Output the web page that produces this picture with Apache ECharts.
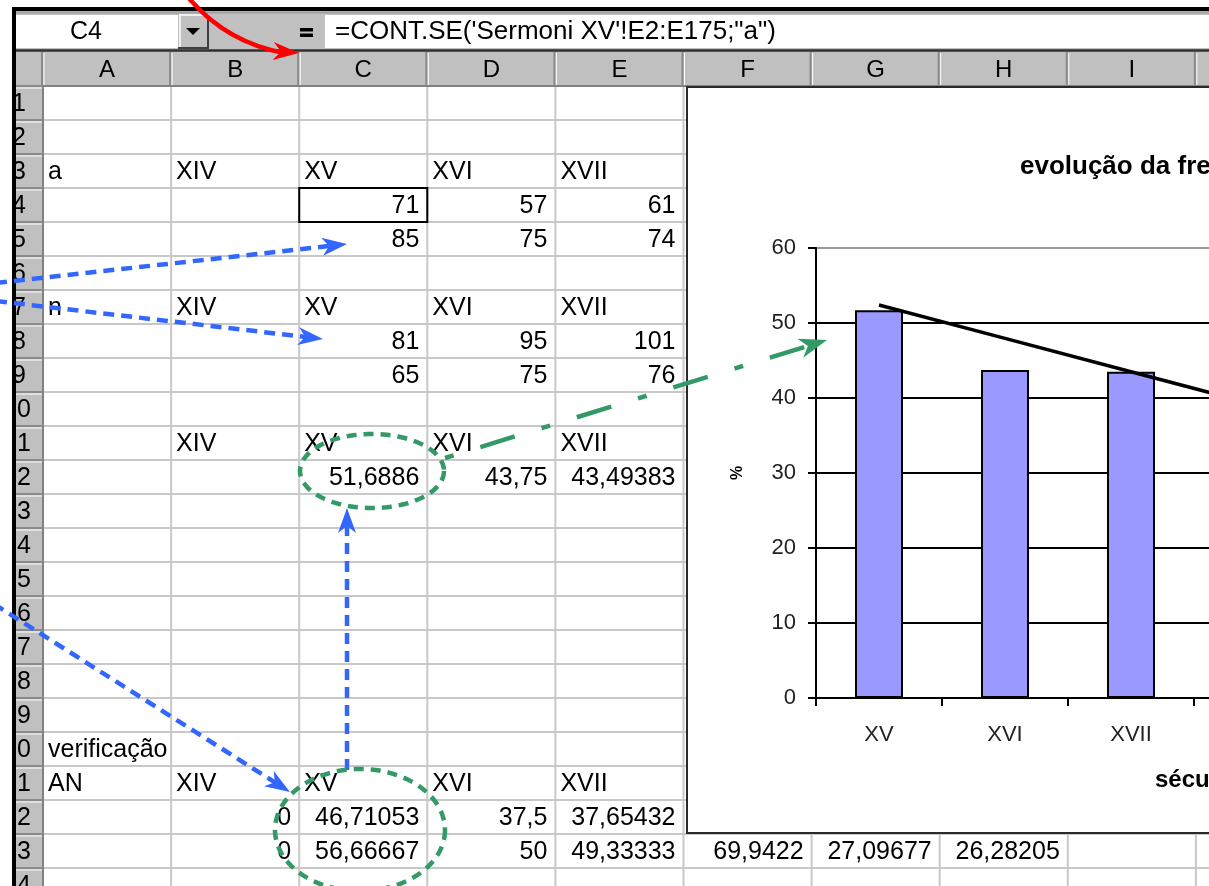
<!DOCTYPE html>
<html>
<head>
<meta charset="utf-8">
<script src="https://cdn.jsdelivr.net/npm/echarts@6/dist/echarts.min.js"></script>
<style>
  html, body { margin: 0; padding: 0; background: #fff; overflow: hidden; }
  #chart { width: 1209px; height: 886px; }
</style>
</head>
<body>
<div id="chart"></div>
<script>
// ---- chart data ----
const categories = ['XV', 'XVI', 'XVII', 'XVIII'];
const frequencia = [51.6886, 43.75, 43.49383];
const tendencia = [52.4, 47.95, 43.5, 39.05];
const chartTitle = 'evolução da frequência';
const xName = 'século';
const yName = '%';

// ---- sheet data ----
const colunas = ['A', 'B', 'C', 'D', 'E', 'F', 'G', 'H', 'I', 'J'];
const seculos = ['XIV', 'XV', 'XVI', 'XVII'];
const contagemA = [[71, 57, 61], [85, 75, 74]];
const contagemN = [[81, 95, 101], [65, 75, 76]];
const verificacao = [
  ['0', '46,71053', '37,5', '37,65432'],
  ['0', '56,66667', '50', '49,33333', '69,9422', '27,09677', '26,28205']
];
const celulaActiva = 'C4';
const formula = '=CONT.SE(\'Sermoni XV\'!E2:E175;"a")';

// ---- layout ----
const FONT = '"Liberation Sans", Arial, sans-serif';
const COL0 = 43, COLW = 128.1, ROW0 = 86, ROWH = 34;
const colX = c => COL0 + c * COLW;
const rowY = r => ROW0 + (r - 1) * ROWH;
const fmt = v => String(v).replace('.', ',');

const els = [];
const rect = (x, y, w, h, fill, z, extra) =>
  els.push(Object.assign({ type: 'rect', z: z, silent: true, shape: { x, y, width: w, height: h }, style: { fill: fill } }, extra || {}));
const line = (x1, y1, x2, y2, stroke, w, z) =>
  els.push({ type: 'line', z: z, silent: true, shape: { x1, y1, x2, y2 }, style: { stroke: stroke, lineWidth: w } });
const text = (t, x, y, align, size, z, weight, color) =>
  els.push({ type: 'text', z: z, silent: true, style: {
    text: t, x: x, y: y, font: (weight || 'normal') + ' ' + size + 'px ' + FONT,
    fill: color || '#000', textAlign: align, align: align, textVerticalAlign: 'middle', verticalAlign: 'middle'
  } });

// formula bar
rect(12, 7, 1197, 45, '#c0c0c0', -30);
rect(16, 15, 162, 33, '#ffffff', -29);
text(celulaActiva, 86, 32, 'center', 25, -28);
rect(179, 15, 30, 33, '#c0c0c0', -29);
line(179, 15, 209, 15, '#ffffff', 1.5, -28);
line(180, 15, 180, 48, '#ffffff', 1.5, -28);
line(178, 48, 209, 48, '#404040', 2, -28);
line(208, 15, 208, 48, '#404040', 2, -28);
els.push({ type: 'polygon', z: -27, silent: true, shape: { points: [[186, 28], [200, 28], [193, 35]] }, style: { fill: '#000' } });
rect(300, 28, 13, 3.5, '#000', -28);
rect(300, 33.5, 13, 3.5, '#000', -28);
rect(325, 15, 884, 33, '#ffffff', -29);
text(formula, 335, 32, 'left', 26, -28);
line(12, 12.5, 1209, 12.5, '#a0a0a0', 2, -28);
line(12, 50.5, 1209, 50.5, '#303030', 2.5, -28);

// column header row
rect(16, 52, 1193, 34, '#c0c0c0', -30);
line(16, 86, 1209, 86, '#808080', 2, -26);
for (let c = 0; c <= colunas.length; c++) {
  const x = colX(c);
  line(x - 1, 52, x - 1, 86, '#8a8a8a', 2, -26);
  line(x + 1, 53, x + 1, 85, '#ffffff', 1, -26);
}
colunas.forEach((l, c) => text(l, colX(c) + COLW / 2, 70, 'center', 24, -25));

// row header column
rect(16, 86, 27, 800, '#c0c0c0', -30);
line(43, 86, 43, 886, '#808080', 2, -26);
for (let r = 1; r <= 25; r++) {
  const y = rowY(r);
  line(16, y, 43, y, '#8a8a8a', 2, -26);
  line(16, y + 2, 42, y + 2, '#ffffff', 1, -26);
  if (r <= 24) {
    text(String(r % 10), r < 10 ? 26 : 31, y + ROWH / 2 + 1, 'right', 25, -25);
  }
}

// cell grid
for (let c = 1; c <= colunas.length; c++) line(colX(c), 86, colX(c), 886, '#c8c8c8', 2, -27);
for (let r = 2; r <= 25; r++) line(44, rowY(r), 1209, rowY(r), '#c8c8c8', 2, -27);

// cell contents
const cellText = (r, c, t) => text(t, colX(c) + 5, rowY(r) + ROWH / 2 + 1, 'left', 25, -20);
const cellNum = (r, c, t) => text(String(t), colX(c + 1) - 8, rowY(r) + ROWH / 2 + 1, 'right', 25, -20);
cellText(3, 0, 'a');
cellText(7, 0, 'n');
cellText(20, 0, 'verificação');
cellText(21, 0, 'AN');
[3, 7, 11, 21].forEach(r => seculos.forEach((s, i) => cellText(r, 1 + i, s)));
contagemA.forEach((row, k) => row.forEach((v, i) => cellNum(4 + k, 2 + i, v)));
contagemN.forEach((row, k) => row.forEach((v, i) => cellNum(8 + k, 2 + i, v)));
frequencia.forEach((v, i) => cellNum(12, 2 + i, fmt(v)));
verificacao.forEach((row, k) => row.forEach((v, i) => cellNum(22 + k, 1 + i, v)));
// active cell
els.push({ type: 'rect', z: -19, silent: true, shape: { x: colX(2), y: rowY(4), width: COLW, height: ROWH }, style: { fill: null, stroke: '#000', lineWidth: 2 } });

// chart object frame
els.push({ type: 'rect', z: -5, silent: true, shape: { x: 687, y: 87, width: 540, height: 746 }, style: { fill: '#fff', stroke: '#2a2a2a', lineWidth: 2 } });
text(xName, 1155, 780, 'left', 24, 5, 'bold');

// window border
rect(12, 7, 1197, 4, '#000', 50);
rect(12, 7, 4, 879, '#000', 50);

// ---- annotation arrows ----
function headPts(tip, from, len, half, notch) {
  const dx = tip[0] - from[0], dy = tip[1] - from[1];
  const L = Math.hypot(dx, dy), ux = dx / L, uy = dy / L, nx = -uy, ny = ux;
  const bx = tip[0] - ux * len, by = tip[1] - uy * len;
  return {
    pts: [tip, [bx + nx * half, by + ny * half], [tip[0] - ux * (len - notch), tip[1] - uy * (len - notch)], [bx - nx * half, by - ny * half]],
    end: [tip[0] - ux * (len - notch - 2), tip[1] - uy * (len - notch - 2)]
  };
}
function arrow(from, tip, color, width, dash, len, half, notch, dashOffset) {
  const h = headPts(tip, from, len, half, notch);
  els.push({ type: 'polyline', z: 100, silent: true, shape: { points: [from, h.end] },
    style: { stroke: color, lineWidth: width, lineDash: dash, lineDashOffset: dashOffset || 0, fill: null } });
  els.push({ type: 'polygon', z: 101, silent: true, shape: { points: h.pts }, style: { fill: color } });
}
function ellipse(cx, cy, rx, ry, color, width, dash) {
  const pts = [];
  for (let i = 0; i <= 120; i++) {
    const a = i / 120 * Math.PI * 2;
    pts.push([cx + rx * Math.cos(a), cy + ry * Math.sin(a)]);
  }
  els.push({ type: 'polyline', z: 100, silent: true, shape: { points: pts }, style: { stroke: color, lineWidth: width, lineDash: dash, fill: null } });
}

const BLUE = '#3366ff', GREEN = '#339966', RED = '#ff0000';
arrow([-4, 283], [347, 244], BLUE, 4.5, [11, 7], 25, 9, 7);
arrow([-4, 301], [323, 339], BLUE, 4.5, [11, 7], 25, 9, 7);
arrow([-6, 604], [290, 792], BLUE, 4.5, [11, 7], 25, 9, 7);
arrow([347, 770], [347, 508], BLUE, 4.5, [11, 7], 25, 9, 7);

ellipse(372, 471, 72, 37, GREEN, 4.5, [10, 7]);
ellipse(360, 830, 85, 61, GREEN, 4.5, [10, 7]);

arrow([445, 458], [827, 340], GREEN, 4.5, [9, 28, 36, 28], 28, 10, 8);

// red curved arrow onto column C
els.push({ type: 'bezierCurve', z: 100, silent: true,
  shape: { x1: 187, y1: -4, cpx1: 225, cpy1: 42, x2: 284, y2: 53 },
  style: { stroke: RED, lineWidth: 4.5, fill: null } });
els.push({ type: 'polygon', z: 101, silent: true,
  shape: { points: headPts([299, 53], [272, 51], 26, 9, 8).pts }, style: { fill: RED } });

// ---- chart ----
const chart = echarts.init(document.getElementById('chart'), null, { renderer: 'canvas' });
chart.setOption({
  animation: false,
  backgroundColor: '#ffffff',
  title: {
    text: chartTitle, left: 1020, top: 154, padding: 0,
    textStyle: { fontFamily: FONT, fontSize: 26, fontWeight: 'bold', color: '#000' }
  },
  grid: { left: 816, top: 248, width: 504, height: 450, containLabel: false, outerBoundsMode: 'none' },
  xAxis: {
    type: 'category', data: categories, boundaryGap: true,
    axisLine: { lineStyle: { color: '#000', width: 2 } },
    axisTick: { show: true, length: 8, lineStyle: { color: '#000', width: 2 } },
    axisLabel: { fontFamily: FONT, fontSize: 22, color: '#222', margin: 26 },
    splitLine: { show: false }
  },
  yAxis: {
    type: 'value', min: 0, max: 60, interval: 10,
    name: yName, nameLocation: 'middle', nameRotate: 90, nameGap: 70,
    nameTextStyle: { fontFamily: FONT, fontSize: 16, fontWeight: 'bold', color: '#000' },
    axisLine: { show: true, lineStyle: { color: '#000', width: 2 } },
    axisTick: { show: true, length: 8, lineStyle: { color: '#000', width: 2 } },
    axisLabel: { fontFamily: FONT, fontSize: 22, color: '#222', margin: 20 },
    splitLine: { show: true, lineStyle: { color: ['#000', '#000', '#000', '#000', '#000', '#000', '#999'], width: 2 } }
  },
  series: [
    {
      type: 'bar', data: frequencia, barWidth: 48, z: 2,
      itemStyle: { color: '#9999ff', borderColor: '#000', borderWidth: 2 },
      emphasis: { disabled: true }
    },
    {
      type: 'line', data: tendencia, symbol: 'none', z: 3,
      lineStyle: { color: '#000', width: 3.5 },
      emphasis: { disabled: true }
    }
  ],
  graphic: { elements: els }
});
</script>
</body>
</html>
